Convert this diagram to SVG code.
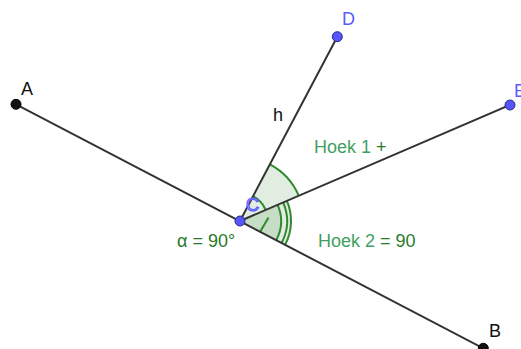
<svg xmlns="http://www.w3.org/2000/svg" width="521" height="349" viewBox="0 0 521 349">
<style>
.ln{stroke:#333;stroke-width:2;fill:none;stroke-linecap:round}
.sec{fill:#0a6e0a;fill-opacity:0.12;stroke:none}
.arc{fill:none;stroke:#2f8a2f;stroke-width:2}
.t{font-family:"Liberation Sans",Arial,sans-serif;font-size:18px}
.pk{fill:#111;stroke:#000;stroke-width:1}
.pb{fill:#5656ff;stroke:#2a2a80;stroke-width:1}
.lb{fill:#5a5aff}
.g1{fill:#3f9f63}
.g2{fill:#2a7a2a}
</style>
<rect width="521" height="349" fill="#fff"/>
<g id="angles">
<path class="sec" d="M240,221 L298.8,195.8 A64,64 0 0 0 269.9,164.4 Z"/>
<path class="sec" d="M240,221 L285.2,244.6 A51,51 0 0 0 286.9,200.9 Z"/>
<path class="sec" d="M240,221 L276.4,239.9 A41,41 0 0 0 277.7,204.9 Z"/>
<path class="arc" d="M298.8,195.8 A64,64 0 0 0 269.9,164.4"/>
<path class="arc" d="M285.2,244.6 A51,51 0 0 0 286.9,200.9"/>
<path class="arc" d="M281.7,242.7 A47,47 0 0 0 283.2,202.5"/>
<path class="arc" d="M276.4,239.9 A41,41 0 0 0 277.7,204.9"/>
<path class="arc" d="M265.7,210 A28,28 0 0 0 253.1,196.2"/>
<path class="arc" d="M260,232 L268.5,217.5"/>
</g>
<g id="connectors">
<line class="ln" x1="16" y1="104.3" x2="483.3" y2="348.3"/>
<line class="ln" x1="240" y1="221" x2="337.3" y2="36.7"/>
<line class="ln" x1="240" y1="221" x2="510" y2="105"/>
</g>
<g id="A"><circle class="pk" cx="16" cy="104.3" r="5"/><text class="t" x="21" y="95" fill="#111">A</text></g>
<g id="B"><circle class="pk" cx="483.3" cy="348.3" r="5"/><text class="t" x="489" y="337" fill="#111">B</text></g>
<g id="D"><circle class="pb" cx="337.3" cy="36.7" r="5"/><text class="t lb" x="342" y="25">D</text></g>
<g id="E"><circle class="pb" cx="510" cy="105" r="5"/><text class="t lb" x="514" y="97">E</text></g>
<g id="C"><circle class="pb" cx="240" cy="221" r="5"/><text class="t" x="246" y="211" fill="#c8c8ff" stroke="#5a5aff" stroke-width="1.2" font-size="20">C</text></g>
<g id="h"><text class="t" x="273" y="121" fill="#111">h</text></g>
<g id="labels">
<text class="t g1" x="314" y="153">Hoek 1 <tspan class="g2">+</tspan></text>
<text class="t g1" x="318" y="247">Hoek 2 <tspan class="g2">= 90</tspan></text>
<text class="t g2" x="177" y="247">α = 90°</text>
</g>
</svg>
